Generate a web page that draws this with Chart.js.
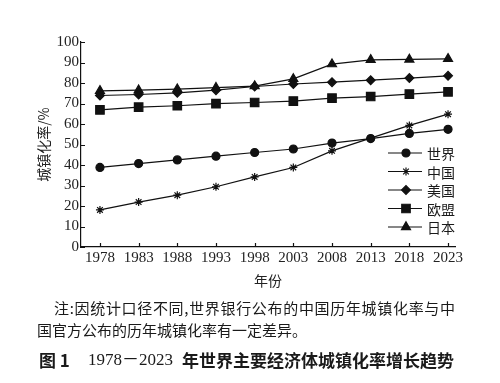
<!DOCTYPE html>
<html><head><meta charset="utf-8">
<script src="https://cdn.jsdelivr.net/npm/chart.js@4.4.0/dist/chart.umd.min.js"></script>
<style>
html,body{margin:0;padding:0;background:#fff;}
#wrap{position:relative;width:500px;height:383px;overflow:hidden;background:#fff;}
canvas{position:absolute;left:0;top:0;}
.t{position:absolute;white-space:nowrap;color:#1a1a1a;font-family:"Noto Sans CJK SC";}
</style></head><body>
<div id="wrap">
<canvas id="c" width="500" height="383"></canvas>
<div class="t" style="left:54px;top:298px;width:401px;font-size:15px;line-height:20px;text-align:justify;text-align-last:justify;">注:因统计口径不同,世界银行公布的中国历年城镇化率与中</div>
<div class="t" style="left:37px;top:320px;font-size:15px;line-height:20px;">国官方公布的历年城镇化率有一定差异。</div>
<div class="t" style="left:39px;top:350px;font-size:17px;line-height:20px;font-weight:bold;">图 1</div>
<div class="t" style="left:88px;top:350px;font-size:17px;line-height:20px;font-family:'Liberation Serif','Noto Sans CJK SC';">1978－2023</div>
<div class="t" style="left:182px;top:350px;font-size:17px;line-height:20px;font-weight:bold;">年世界主要经济体城镇化率增长趋势</div>
</div>
<script>
const years = [1978, 1983, 1988, 1993, 1998, 2003, 2008, 2013, 2018, 2023];
const seriesNames = ['世界', '中国', '美国', '欧盟', '日本'];
const world = [38.8, 40.7, 42.5, 44.3, 46.1, 47.8, 50.7, 52.9, 55.4, 57.4];
const china = [18.1, 21.9, 25.3, 29.4, 34.2, 38.8, 46.9, 53.1, 59.3, 64.8];
const usa   = [73.9, 74.4, 75.2, 76.5, 78.3, 79.5, 80.4, 81.4, 82.4, 83.5];
const eu    = [66.9, 68.2, 68.9, 69.9, 70.5, 71.2, 72.6, 73.4, 74.6, 75.7];
const japan = [76.2, 76.5, 77.0, 77.7, 78.5, 82.0, 89.2, 91.3, 91.5, 91.8];
const yTicks = [0, 10, 20, 30, 40, 50, 60, 70, 80, 90, 100];

const values = [world, china, usa, eu, japan];
const marks = [
  {pointStyle: 'circle', radius: 4},
  {pointStyle: 'star', radius: 4},
  {pointStyle: 'rectRot', radius: 4.4},
  {pointStyle: 'rect', radius: 6},
  {pointStyle: 'triangle', radius: 5.2}
];
const ink = '#111';
const serif = 'Liberation Serif';
const cjk = 'Noto Sans CJK SC';

const datasets = seriesNames.map((name, i) => ({
  label: name,
  data: years.map((yr, j) => ({x: yr, y: values[i][j]})),
  borderColor: ink,
  backgroundColor: ink,
  borderWidth: 1.2,
  pointStyle: marks[i].pointStyle,
  pointRadius: marks[i].radius,
  pointBorderWidth: 1.2,
  pointBackgroundColor: ink,
  pointBorderColor: ink,
  tension: 0,
  fill: false
}));

const decor = {
  id: 'decor',
  afterDraw(chart) {
    const ctx = chart.ctx;
    const xs = chart.scales.x, ys = chart.scales.y;
    const a = chart.chartArea;
    ctx.save();
    ctx.strokeStyle = ink;
    ctx.lineWidth = 1.2;
    ctx.beginPath();
    years.forEach(v => { const px = Math.round(xs.getPixelForValue(v)) + 0.5; ctx.moveTo(px, a.bottom); ctx.lineTo(px, a.bottom - 4); });
    yTicks.forEach(v => { const py = Math.round(ys.getPixelForValue(v)) + 0.5; ctx.moveTo(a.left, py); ctx.lineTo(a.left + 4, py); });
    ctx.stroke();
    // legend
    const lx0 = a.right - 67, lx1 = a.right - 33, mx = a.right - 49, tx = a.right - 28;
    const y0 = a.top + 111, dy = 18.5;
    ctx.font = '14px "' + cjk + '"';
    ctx.textBaseline = 'middle';
    ctx.textAlign = 'left';
    chart.data.datasets.forEach((ds, i) => {
      const y = y0 + i * dy;
      ctx.strokeStyle = ink; ctx.lineWidth = 1.2;
      ctx.beginPath(); ctx.moveTo(lx0, y); ctx.lineTo(lx1, y); ctx.stroke();
      ctx.fillStyle = ink;
      Chart.helpers.drawPoint(ctx, {pointStyle: ds.pointStyle, radius: ds.pointRadius, rotation: 0, borderWidth: 1.2}, mx, y);
      ctx.fillStyle = '#1a1a1a';
      ctx.fillText(ds.label, tx, y + 1);
    });
    ctx.restore();
  }
};

new Chart(document.getElementById('c'), {
  type: 'line',
  data: {datasets},
  options: {
    responsive: false,
    animation: false,
    devicePixelRatio: 1,
    layout: {padding: {left: 0, top: 42, right: 45, bottom: 91}},
    plugins: {legend: {display: false}, tooltip: {enabled: false}},
    scales: {
      x: {
        type: 'linear', min: 1975.55, max: 2023.9,
        afterBuildTicks: s => { s.ticks = years.map(v => ({value: v})); },
        afterFit: s => { s.height = 45; },
        ticks: {callback: v => String(v), font: {family: serif, size: 15}, color: '#222', padding: 2, maxRotation: 0, autoSkip: false},
        grid: {display: false, drawTicks: false},
        border: {display: true, color: ink, width: 1.2},
        title: {display: true, text: '年份', font: {family: cjk, size: 14}, color: '#222', padding: {top: 0, bottom: 3}}
      },
      y: {
        min: 0, max: 100,
        afterBuildTicks: s => { s.ticks = yTicks.map(v => ({value: v})); },
        afterFit: s => { s.width = 81; },
        ticks: {font: {family: serif, size: 15}, color: '#222', padding: 2, autoSkip: false},
        grid: {display: false, drawTicks: false},
        border: {display: true, color: ink, width: 1.2},
        title: {display: true, text: '城镇化率/%', font: {family: cjk, size: 14}, color: '#222', padding: {top: 35, bottom: 0}}
      }
    }
  },
  plugins: [decor]
});
</script>
</body></html>
